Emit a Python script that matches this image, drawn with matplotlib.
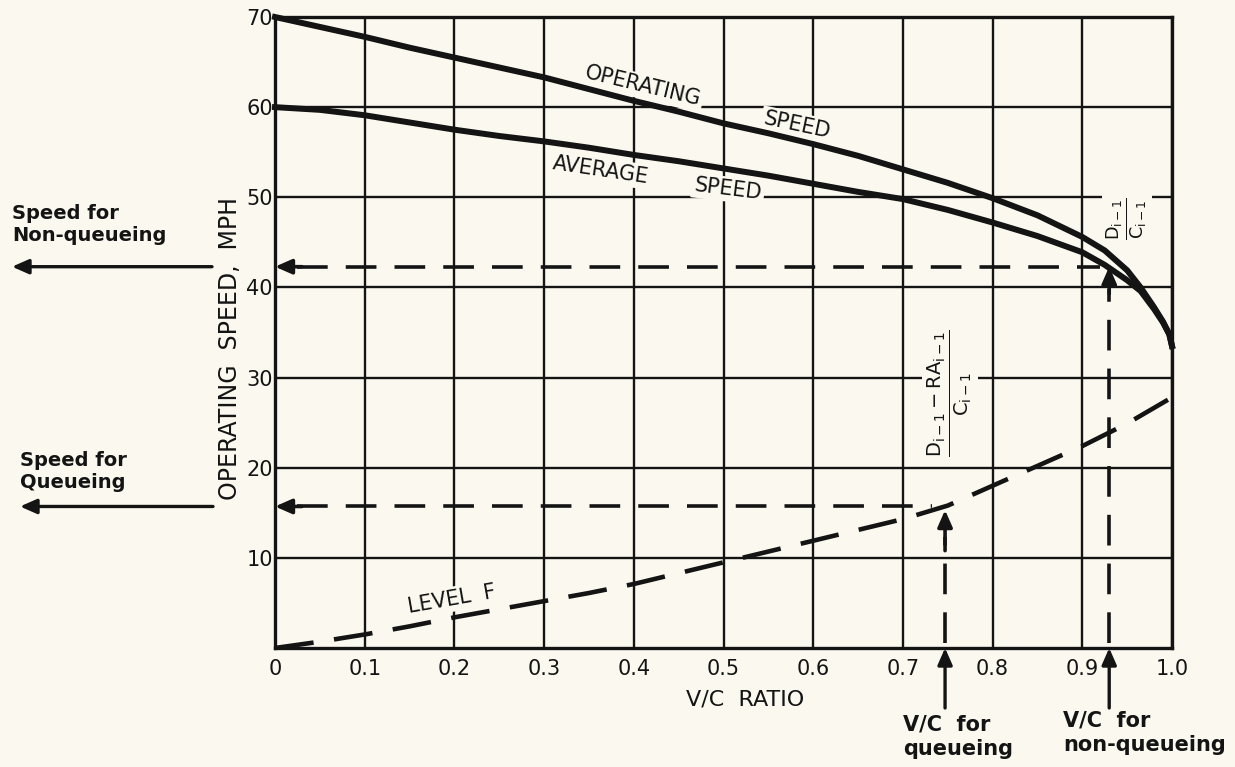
import numpy as np
import matplotlib
matplotlib.use("Agg")
import matplotlib.pyplot as plt

# ---------------- data ----------------
vc_points = [0, 0.05, 0.1, 0.15, 0.2, 0.25, 0.3, 0.35, 0.4, 0.45, 0.5, 0.55, 0.6,
             0.65, 0.7, 0.75, 0.8, 0.85, 0.9, 0.925, 0.95, 0.965, 0.98, 0.99, 0.997, 1.0]
operating_speed = [70, 68.9, 67.8, 66.6, 65.5, 64.4, 63.3, 62.0, 60.7, 59.5, 58.2, 57.1, 55.9,
                   54.6, 53.1, 51.6, 49.9, 48.0, 45.6, 44.1, 41.9, 40.0, 37.8, 36.2, 34.8, 33.5]
average_speed = [60, 59.7, 59.1, 58.3, 57.5, 56.8, 56.2, 55.5, 54.7, 54.0, 53.2, 52.4, 51.5,
                 50.6, 49.8, 48.6, 47.2, 45.7, 43.9, 42.5, 40.8, 39.6, 37.6, 36.1, 34.8, 33.5]

level_f_vc = [0, 0.05, 0.1, 0.15, 0.2, 0.25, 0.3, 0.35, 0.4, 0.45, 0.5, 0.55, 0.6,
              0.65, 0.7, 0.75, 0.8, 0.85, 0.9, 0.95, 1.0]
level_f_speed = [0, 0.7, 1.5, 2.4, 3.4, 4.3, 5.2, 6.1, 7.1, 8.3, 9.5, 10.7, 11.9,
                 13.1, 14.3, 15.8, 18.0, 20.2, 22.4, 24.9, 27.8]

x_ticks = [0, 0.1, 0.2, 0.3, 0.4, 0.5, 0.6, 0.7, 0.8, 0.9, 1.0]
x_tick_labels = ["0", "0.1", "0.2", "0.3", "0.4", "0.5", "0.6", "0.7", "0.8", "0.9", "1.0"]
y_ticks = [10, 20, 30, 40, 50, 60, 70]
y_tick_labels = ["10", "20", "30", "40", "50", "60", "70"]

vc_queueing = 0.747
vc_nonqueueing = 0.93
speed_queueing = 15.7
speed_nonqueueing = 42.3
queue_arrow_tip = 15.3

# ---------------- style ----------------
bg = "#fbf9ef"
ink = "#141414"
plt.rcParams["font.family"] = ["DejaVu Sans"]
plt.rcParams["mathtext.default"] = "regular"

fig = plt.figure(figsize=(12.35, 7.67), dpi=100, facecolor=bg)
ax = fig.add_axes([275 / 1235, 1 - 648 / 767, 897 / 1235, 631 / 767])
ax.set_facecolor(bg)
ax.set_xlim(0, 1.0)
ax.set_ylim(0, 70)
ax.set_xticks(x_ticks)
ax.set_xticklabels(x_tick_labels)
ax.set_yticks(y_ticks)
ax.set_yticklabels(y_tick_labels)
ax.tick_params(axis="both", length=0, labelsize=15, colors=ink)
ax.tick_params(axis="x", pad=8)
ax.tick_params(axis="y", pad=1.5)
ax.grid(True, color=ink, lw=1.7)
ax.set_axisbelow(True)
for s in ax.spines.values():
    s.set_linewidth(2.4)
    s.set_color(ink)

# curves
ax.plot(vc_points, operating_speed, color=ink, lw=4.3, solid_joinstyle="round", zorder=5,
        clip_on=False)
ax.plot(vc_points, average_speed, color=ink, lw=4.3, solid_joinstyle="round", zorder=5,
        clip_on=False)
ax.plot(level_f_vc, level_f_speed, color=ink, lw=3.3, dashes=(8.5, 4.5), zorder=5)

# dashed guide lines
hd = dict(color=ink, lw=2.6, dashes=(8.5, 5), zorder=4)
ax.plot([0.025, vc_nonqueueing - 0.01], [speed_nonqueueing, speed_nonqueueing], **hd)
ax.plot([0.025, vc_queueing - 0.015], [speed_queueing, speed_queueing], **hd)
ax.plot([vc_nonqueueing, vc_nonqueueing], [0.5, speed_nonqueueing - 2.5], **hd)
ax.plot([vc_queueing, vc_queueing], [0.5, queue_arrow_tip - 3.0], **hd)

head = dict(arrowstyle="-|>,head_length=0.5,head_width=0.22", color=ink, lw=2.6,
            mutation_scale=20, shrinkA=0, shrinkB=0)
for yv in (speed_nonqueueing, speed_queueing):
    ax.annotate("", xy=(0, yv), xytext=(0.03, yv), arrowprops=head, annotation_clip=False,
                zorder=6)
ax.annotate("", xy=(vc_nonqueueing, speed_nonqueueing), xytext=(vc_nonqueueing, speed_nonqueueing - 3),
            arrowprops=head, zorder=6)
ax.annotate("", xy=(vc_queueing, queue_arrow_tip), xytext=(vc_queueing, queue_arrow_tip - 4.5),
            arrowprops=head, zorder=6)

# arrows outside the axes
out = dict(arrowstyle="-|>,head_length=0.5,head_width=0.22", color=ink, lw=2.4,
           mutation_scale=20, shrinkA=0, shrinkB=0)
ax.annotate("", xy=(12 / 1235, speed_nonqueueing), xycoords=("figure fraction", "data"),
            xytext=(212 / 1235, speed_nonqueueing), textcoords=("figure fraction", "data"),
            arrowprops=out, annotation_clip=False)
ax.annotate("", xy=(20 / 1235, speed_queueing), xycoords=("figure fraction", "data"),
            xytext=(213 / 1235, speed_queueing), textcoords=("figure fraction", "data"),
            arrowprops=out, annotation_clip=False)
for xv in (vc_queueing, vc_nonqueueing):
    ax.annotate("", xy=(xv, 0), xycoords="data",
                xytext=(xv, 1 - 708 / 767), textcoords=("data", "figure fraction"),
                arrowprops=out, annotation_clip=False)

# in-plot labels
box = dict(boxstyle="square,pad=0.12", fc=bg, ec="none")
lab = dict(color=ink, fontsize=15, ha="center", va="center", zorder=3, bbox=box,
           rotation_mode="anchor")
ax.text(0.41, 62.3, "OPERATING", rotation=-13.5, **lab)
ax.text(0.582, 58.0, "SPEED", rotation=-12, **lab)
ax.text(0.363, 53.0, "AVERAGE", rotation=-8.5, **lab)
ax.text(0.505, 50.9, "SPEED", rotation=-7, **lab)
ax.text(0.197, 5.4, "LEVEL  F", rotation=10, **lab)

ax.text(0.95, 47.6, r"$\frac{D_{i-1}}{C_{i-1}}$", rotation=90, color=ink, fontsize=18,
        ha="center", va="center", zorder=3, bbox=box)
ax.text(0.7525, 28.3, r"$\frac{D_{i-1} - RA_{i-1}}{C_{i-1}}$", rotation=90, color=ink,
        fontsize=20, ha="center", va="center", zorder=3, bbox=box)

# axis labels
ax.set_xlabel("V/C  RATIO", fontsize=16, color=ink)
ax.xaxis.set_label_coords(0.524, -0.066)
ax.set_ylabel("OPERATING  SPEED,  MPH", fontsize=17, color=ink, va="center")
ax.yaxis.set_label_coords(-0.05, 0.475)

# outside annotation texts
note = dict(color=ink, fontsize=14, fontweight="bold", ha="left", va="top", linespacing=1.2)
fig.text(12 / 1235, 1 - 204 / 767, "Speed for\nNon-queueing", **note)
fig.text(20 / 1235, 1 - 451 / 767, "Speed for\nQueueing", **note)
note2 = dict(color=ink, fontsize=15, fontweight="bold", ha="left", va="top", linespacing=1.25)
fig.text(903 / 1235, 1 - 715 / 767, "V/C  for\nqueueing", **note2)
fig.text(1063 / 1235, 1 - 711 / 767, "V/C  for\nnon-queueing", **note2)

fig.savefig("out.png", dpi=100, facecolor=bg)
